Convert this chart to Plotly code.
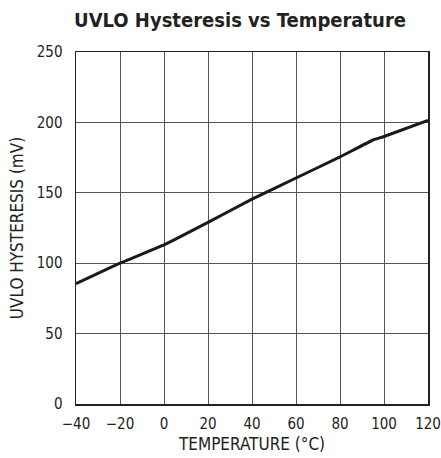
import plotly.graph_objects as go

temperature = [-40, -20, 0, 20, 40, 60, 80, 95, 100, 120]
hysteresis = [85.4, 100.0, 113.0, 129.0, 145.5, 160.5, 175.5, 187.5, 190.0, 201.5]

x_ticks = [-40, -20, 0, 20, 40, 60, 80, 100, 120]
x_ticktext = ["\u221240", "\u221220", "0", "20", "40", "60", "80", "100", "120"]
y_ticks = [0, 50, 100, 150, 200, 250]
y_ticktext = ["0", "50", "100", "150", "200", "250"]

FONT = "DejaVu Sans Condensed, Liberation Sans Narrow, Arial Narrow, sans-serif"

W, H = 441, 458

fig = go.Figure()
fig.add_trace(go.Scatter(
    x=temperature, y=hysteresis, mode="lines",
    line=dict(color="#1a1a1a", width=3, shape="spline", smoothing=0.3),
    showlegend=False, hoverinfo="skip",
))

fig.update_layout(
    width=W, height=H,
    margin=dict(l=76, r=W - 428, t=52, b=H - 404, autoexpand=False),
    paper_bgcolor="white", plot_bgcolor="white",
    font=dict(family=FONT, size=15, color="#222"),
    title=dict(
        text="<b>UVLO Hysteresis vs Temperature</b>",
        x=240 / W, xanchor="center", y=1 - 20 / H, yanchor="middle",
        font=dict(family=FONT, size=20, color="#222"),
        automargin=False,
    ),
)
fig.update_xaxes(
    range=[-40, 120], tickvals=x_ticks, ticktext=x_ticktext,
    showgrid=True, gridcolor="#555", gridwidth=1,
    showline=True, linecolor="#222", linewidth=1.5, mirror=True,
    ticks="outside", ticklen=5, tickcolor="rgba(0,0,0,0)",
    zeroline=False, automargin=False,
    title=dict(text="TEMPERATURE (°C)", standoff=6, font=dict(size=17)),
)
fig.update_yaxes(
    range=[0, 250], tickvals=y_ticks, ticktext=y_ticktext,
    showgrid=True, gridcolor="#555", gridwidth=1,
    showline=True, linecolor="#222", linewidth=1.5, mirror=True,
    ticks="outside", ticklen=9, tickcolor="rgba(0,0,0,0)",
    zeroline=False, automargin=False,
    title=dict(text="UVLO HYSTERESIS (mV)", standoff=9, font=dict(size=17)),
)

fig.write_html(
    "out.html",
    config={"displayModeBar": False, "staticPlot": True},
    post_script="document.body.style.margin='0';document.body.style.overflow='hidden';",
)
